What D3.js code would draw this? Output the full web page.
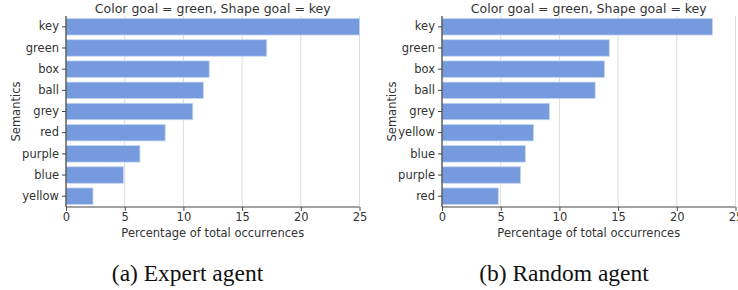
<!DOCTYPE html>
<html>
<head>
<meta charset="utf-8">
<script src="https://cdn.jsdelivr.net/npm/d3@7"></script>
<style>
  body { margin: 0; background: #fff; }
  svg text { font-family: "DejaVu Sans", sans-serif; fill: #333; }
</style>
</head>
<body>
<div id="chart"></div>
<script>
// --- Data ---
const expertLabels = ["key", "green", "box", "ball", "grey", "red", "purple", "blue", "yellow"];
const expertValues = [25.0, 17.1, 12.2, 11.7, 10.8, 8.45, 6.3, 4.9, 2.3];

const randomLabels = ["key", "green", "box", "ball", "grey", "yellow", "blue", "purple", "red"];
const randomValues = [23.05, 14.25, 13.85, 13.05, 9.15, 7.8, 7.1, 6.7, 4.8];

const xTicks = [0, 5, 10, 15, 20, 25];
const panelTitle = "Color goal = green, Shape goal = key";
const captions = ["(a) Expert agent", "(b) Random agent"];

// --- Layout ---
const w = 738, h = 290;
const plotTop = 16, plotBottom = 207;
const barColor = "#759ade";

const svg = d3.select("#chart").append("svg")
    .attr("width", w)
    .attr("height", h);

function drawPanel(left, right, labels, values, caption, captionX) {
    const x = d3.scaleLinear().domain([0, 25]).range([left, right]);
    const y = d3.scaleBand().domain(labels).range([plotTop, plotBottom]).paddingInner(0.22).paddingOuter(0.12);
    const g = svg.append("g");

    // vertical grid
    g.selectAll("line.grid")
        .data(xTicks)
        .enter()
        .append("line")
        .attr("x1", d => x(d)).attr("x2", d => x(d))
        .attr("y1", plotTop).attr("y2", plotBottom)
        .attr("stroke", "#dcdcdc")
        .attr("stroke-width", 1);

    // bars
    g.selectAll("rect")
        .data(values)
        .enter()
        .append("rect")
        .attr("x", x(0))
        .attr("y", (d, i) => y(labels[i]))
        .attr("width", d => x(d) - x(0))
        .attr("height", y.bandwidth())
        .attr("fill", barColor)
        .attr("stroke", "#c9d7f2")
        .attr("stroke-width", 0.8);

    // axes
    const xAxis = d3.axisBottom(x).tickValues(xTicks).tickSize(4).tickPadding(2);
    const gx = g.append("g")
        .attr("transform", "translate(0," + plotBottom + ")")
        .call(xAxis);
    const yAxis = d3.axisLeft(y).tickSize(4).tickPadding(3);
    const gy = g.append("g")
        .attr("transform", "translate(" + left + ",0)")
        .call(yAxis);

    [gx, gy].forEach(a => {
        a.select(".domain").attr("stroke", "#444").attr("stroke-width", 1.2);
        a.selectAll(".tick line").attr("stroke", "#444");
        a.selectAll(".tick text").attr("font-size", "11.5px").attr("fill", "#333")
            .attr("font-family", "DejaVu Sans, sans-serif");
    });
    gy.select(".domain").attr("d", "M0," + plotTop + "V" + plotBottom);
    gx.select(".domain").attr("d", "M" + left + ",0H" + right);

    // title
    g.append("text")
        .attr("x", (left + right) / 2)
        .attr("y", 13)
        .attr("text-anchor", "middle")
        .attr("font-size", "12.5px")
        .text(panelTitle);

    // x label
    g.append("text")
        .attr("x", (left + right) / 2)
        .attr("y", 237)
        .attr("text-anchor", "middle")
        .attr("font-size", "11.5px")
        .text("Percentage of total occurrences");

    // y label
    g.append("text")
        .attr("transform", "translate(" + (left - 46) + "," + ((plotTop + plotBottom) / 2) + ") rotate(-90)")
        .attr("text-anchor", "middle")
        .attr("font-size", "11.5px")
        .text("Semantics");

    // caption
    svg.append("text")
        .attr("x", captionX)
        .attr("y", 281)
        .attr("text-anchor", "middle")
        .attr("font-size", "23.5px")
        .style("font-family", "'Liberation Serif', 'Times New Roman', serif")
        .style("fill", "#111")
        .text(caption);
}

drawPanel(66, 359.5, expertLabels, expertValues, captions[0], 187.5);
drawPanel(442, 735.5, randomLabels, randomValues, captions[1], 564);
</script>
</body>
</html>
